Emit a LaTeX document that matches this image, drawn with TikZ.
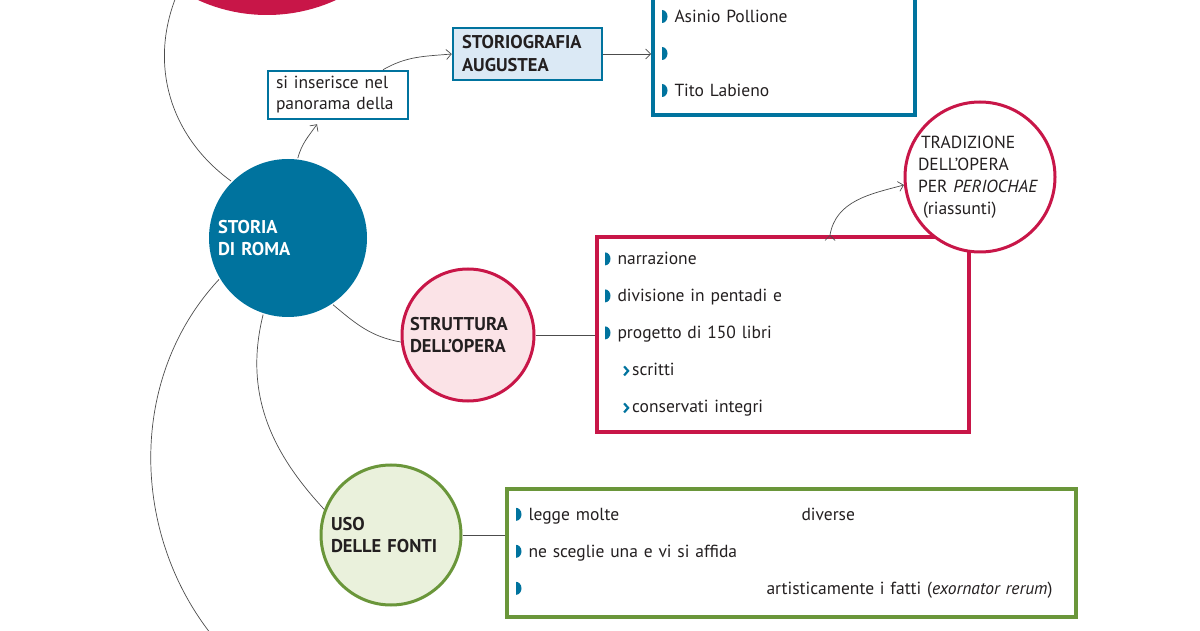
\documentclass[tikz,border=0pt]{standalone}
\usepackage{fontspec}
\setmainfont{PT Sans}
\usepackage{tikz}
\usetikzlibrary{arrows.meta}

\definecolor{blu}{RGB}{0,115,158}
\definecolor{cremisi}{RGB}{200,22,72}
\definecolor{rosa}{RGB}{251,227,231}
\definecolor{celeste}{RGB}{219,233,245}
\definecolor{verde}{RGB}{106,150,58}
\definecolor{verdino}{RGB}{234,241,220}
\definecolor{inchiostro}{RGB}{35,31,32}

\newcommand{\pallino}{\tikz[baseline=0.5pt]\fill[blu] (0pt,0pt) arc[start angle=-90, end angle=90, x radius=5.5pt, y radius=6.5pt] -- cycle;\hspace{7pt}}
\newcommand{\freccina}{\hspace*{18pt}\tikz[baseline=0pt]\draw[blu, line width=2.2pt] (0pt,0.5pt) -- (4pt,5pt) -- (0pt,9.5pt);\hspace{3pt}}

\begin{document}
\begin{tikzpicture}[x=1pt, y=1pt,
  every node/.style={text=inchiostro, font=\fontsize{17.5}{22}\selectfont},
  tondo/.style={circle, inner sep=0pt, line width=3pt, align=left, font=\fontsize{18.5}{22}\selectfont\bfseries},
  riquadro/.style={rectangle, draw=blu, line width=2.5pt, align=left, inner sep=0pt},
  elenco/.style={rectangle, line width=4pt, align=left, inner xsep=9pt, inner ysep=0pt, font=\fontsize{17.5}{37}\selectfont},
  filo/.style={draw=black!70, line width=0.7pt},
  >={Straight Barb[length=5pt,width=10pt]}]
  \useasboundingbox (0,0) rectangle (1200,630);

  % nodi principali
  \node[circle, fill=cremisi, minimum size=332pt] (livio) at (267,781) {};
  \node[tondo, fill=blu, text=white, minimum size=158pt, text width=140pt] (storia) at (288,392) {STORIA\\DI ROMA};
  \node[riquadro, minimum width=140pt, minimum height=48pt, text width=124pt, font=\fontsize{17.5}{21}\selectfont] (inserisce) at (338,535) {si inserisce nel\\panorama della};
  \node[riquadro, fill=celeste, minimum width=149pt, minimum height=52pt, text width=131pt, font=\fontsize{18.5}{23}\selectfont\bfseries] (storiografia) at (527.5,576) {STORIOGRAFIA\\AUGUSTEA};
  \node[elenco, draw=blu, minimum width=262pt, minimum height=123pt, text width=244pt] (autori) at (784,576.5)
    {\pallino Asinio Pollione\\\pallino\\\pallino Tito Labieno};

  \node[tondo, draw=cremisi, fill=rosa, minimum size=132pt, text width=116pt] (struttura) at (468,295) {STRUTTURA\\DELL’OPERA};
  \node[elenco, draw=cremisi, inner xsep=8pt, minimum width=372pt, minimum height=195pt, text width=356pt] (opera) at (783,295.5)
    {\pallino narrazione\\\pallino divisione in pentadi e\\\pallino progetto di 150 libri\\\freccina scritti\\\freccina conservati integri};
  \node[tondo, draw=cremisi, fill=white, minimum size=150pt, text width=124pt, font=\fontsize{17.5}{22}\selectfont] (tradizione) at (980,453)
    {\hspace*{3pt}TRADIZIONE\\DELL’OPERA\\PER \textit{PERIOCHAE}\\\hspace*{5pt}(riassunti)};

  \node[tondo, draw=verde, fill=verdino, minimum size=140pt, text width=120pt] (uso) at (391,95) {USO\\DELLE FONTI};
  \node[elenco, draw=verde, minimum width=569pt, minimum height=128pt, text width=551pt] (fonti) at (791.5,77)
    {\pallino\makebox[273pt][l]{legge molte}diverse\\\pallino ne sceglie una e vi si affida\\\pallino\hspace*{238pt}artisticamente i fatti (\textit{exornator rerum})};

  \coordinate (fondo) at (271,-60);

  % collegamenti
  \path[filo]
  (livio.238) edge[out=246, in=144] (storia.135)
  (storia.304) edge[out=-40, in=170] (struttura.186)
  (storia.252) edge[out=256, in=133] (uso.159)
  (storia.211) edge[out=227, in=146] (fondo)
  (struttura.east) edge (struttura.east -| opera.west)
  (uso.east) edge (uso.east -| fonti.west)
  ;
  \path[filo, ->]
  (storia.83) edge[out=75, in=235] ([xshift=-21pt, yshift=-4pt]inserisce.south)
  ([xshift=45pt]inserisce.north) edge[out=30, in=185] (storiografia.west)
  (storiografia.east) edge (autori.west |- storiografia.east)
  ([xshift=47pt]opera.north) edge[out=80, in=195] (tradizione.186)
  ;
\end{tikzpicture}
\end{document}
